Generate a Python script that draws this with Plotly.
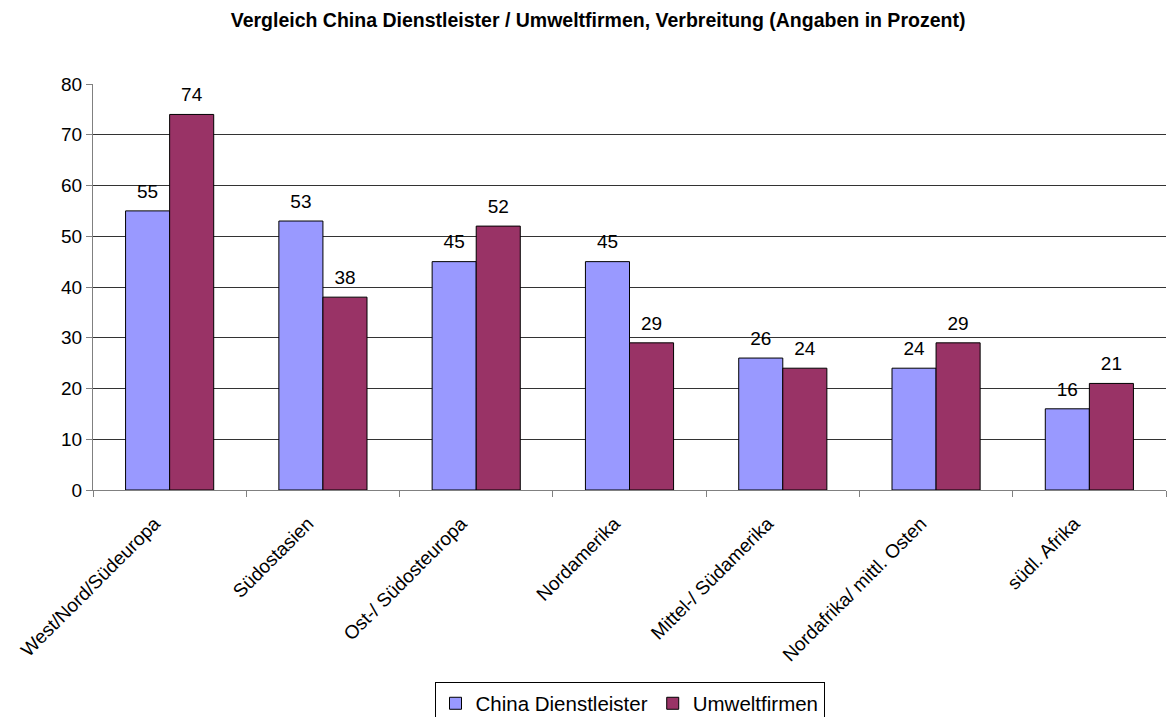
import plotly.graph_objects as go

# ── Data ──
regions = [
    "West/Nord/Südeuropa",
    "Südostasien",
    "Ost-/ Südosteuropa",
    "Nordamerika",
    "Mittel-/ Südamerika",
    "Nordafrika/ mittl. Osten",
    "südl. Afrika",
]
china_dienstleister = [55, 53, 45, 45, 26, 24, 16]
umweltfirmen = [74, 38, 52, 29, 24, 29, 21]
y_ticks = [0, 10, 20, 30, 40, 50, 60, 70, 80]

BLUE = "#9999FF"
MAROON = "#993366"
AXIS_GRAY = "#808080"
FONT = "Liberation Sans, Arial, sans-serif"

series = [
    ("China Dienstleister", china_dienstleister, BLUE),
    ("Umweltfirmen", umweltfirmen, MAROON),
]

fig = go.Figure()
for name, vals, color in series:
    fig.add_trace(go.Bar(
        name=name,
        x=regions, y=vals,
        offsetgroup=name,
        marker=dict(color=color, line=dict(color="black", width=1)),
    ))
# value labels, grouped like the bars
for name, vals, color in series:
    fig.add_trace(go.Scatter(
        x=regions, y=vals,
        offsetgroup=name,
        mode="markers+text",
        marker=dict(size=12, opacity=0),
        text=[str(v) for v in vals],
        textposition="top center",
        textfont=dict(size=19, color="black"),
        showlegend=False,
        hoverinfo="skip",
        cliponaxis=False,
    ))

fig.update_layout(
    width=1169, height=717,
    autosize=False,
    barmode="group",
    scattermode="group",
    bargap=0.425,
    bargroupgap=0,
    scattergap=0.425,
    plot_bgcolor="white",
    paper_bgcolor="white",
    font=dict(family=FONT, color="black", size=19),
    title=dict(
        text="<b>Vergleich China Dienstleister / Umweltfirmen, Verbreitung (Angaben in Prozent)</b>",
        font=dict(size=19.5, color="black"),
        x=0.5116, xanchor="center", y=0.972, yanchor="middle",
    ),
    margin=dict(l=93, r=3, t=84, b=227, autoexpand=False),
    showlegend=True,
    legend=dict(
        orientation="h",
        x=0.5, xanchor="center",
        y=-0.474, yanchor="top",
        bordercolor="black", borderwidth=1,
        bgcolor="white",
        font=dict(size=20.5, color="black"),
        traceorder="normal",
        itemwidth=30,
    ),
)

fig.update_yaxes(
    range=[0, 80],
    tickvals=y_ticks,
    automargin=False,
    showgrid=True, gridcolor="#333333", gridwidth=1,
    zeroline=False,
    showline=True, linecolor=AXIS_GRAY, linewidth=1,
    ticks="outside", ticklen=6, tickcolor=AXIS_GRAY,
    tickfont=dict(size=19, color="black"),
)
fig.update_xaxes(
    automargin=False,
    showgrid=False,
    showline=True, linecolor=AXIS_GRAY, linewidth=1,
    ticks="outside", ticklen=6, tickcolor=AXIS_GRAY,
    tickson="boundaries",
    tickangle=-45,
    ticklabelstandoff=14,
    ticklabelshift=-15,
    tickfont=dict(size=19, color="black"),
)

# drop the default page margin so the 1169x717 figure fills the window exactly
fig.write_html(
    "out.html",
    config={"displayModeBar": False},
    post_script="document.body.style.margin='0';",
)
